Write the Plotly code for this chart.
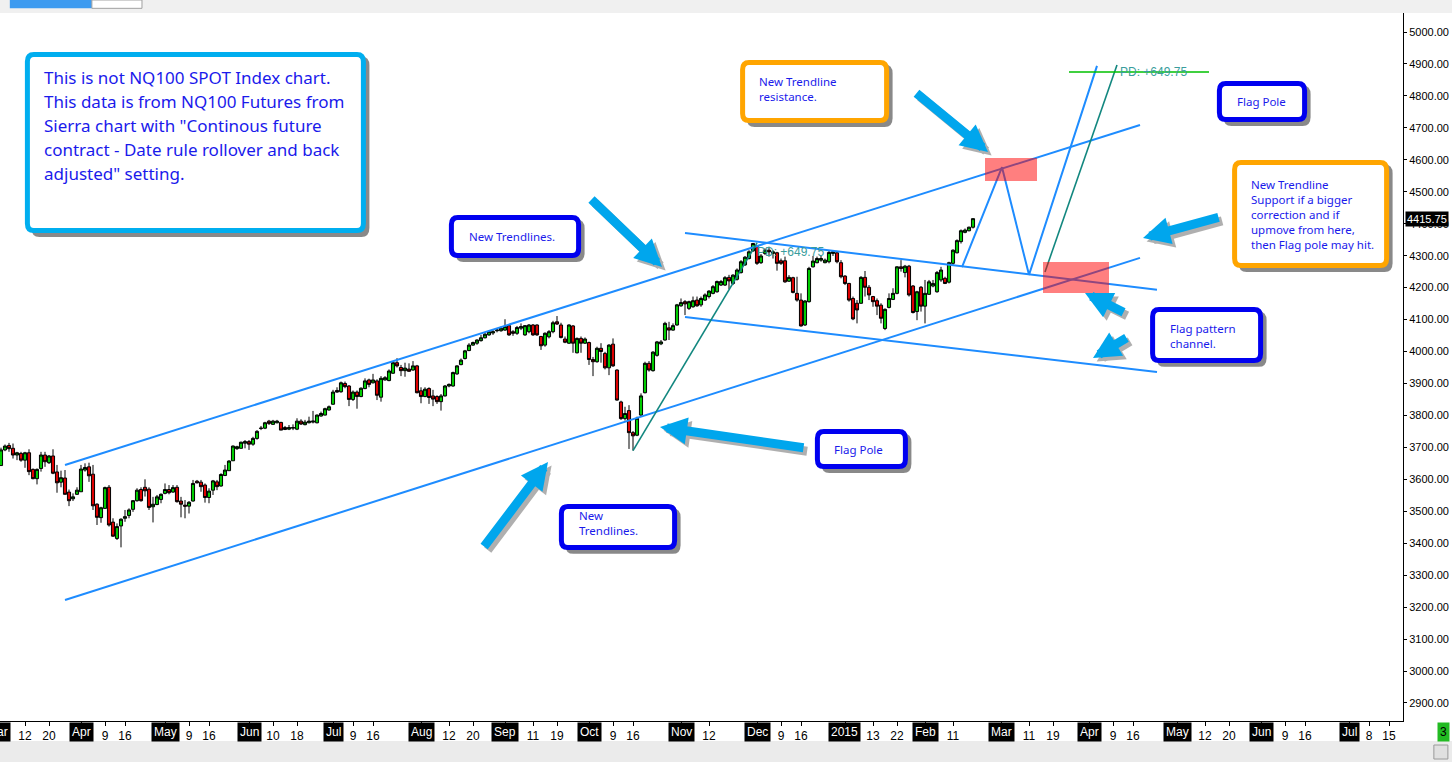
import pandas as pd
import plotly.graph_objects as go

# NQ100 continuous futures, daily bars (back adjusted), first bar 2014-03-04
first_bar = "2014-03-04"

opens = [
    3643, 3692, 3706, 3697, 3676, 3681, 3660, 3683, 3631, 3602,
    3634, 3676, 3652, 3673, 3623, 3591, 3604, 3560, 3539, 3553,
    3561, 3629, 3639, 3616, 3522, 3480, 3509, 3575, 3466, 3415,
    3454, 3478, 3487, 3506, 3533, 3568, 3575, 3569, 3514, 3521,
    3537, 3556, 3568, 3560, 3575, 3532, 3519, 3516, 3532, 3594,
    3591, 3582, 3543, 3566, 3592, 3579, 3612, 3627, 3658, 3696,
    3697, 3713, 3718, 3710, 3728, 3759, 3760, 3782, 3772, 3777,
    3778, 3762, 3757, 3760, 3757, 3782, 3771, 3777, 3779, 3777,
    3798, 3801, 3817, 3835, 3878, 3874, 3900, 3892, 3850, 3873,
    3859, 3884, 3911, 3902, 3908, 3857, 3911, 3909, 3932, 3965,
    3950, 3940, 3945, 3942, 3955, 3877, 3859, 3884, 3861, 3859,
    3843, 3861, 3892, 3892, 3930, 3959, 3978, 4003, 4020, 4026,
    4034, 4043, 4052, 4058, 4065, 4065, 4067, 4081, 4062, 4057,
    4073, 4052, 4062, 4083, 4083, 4047, 4020, 4046, 4062, 4093,
    4083, 4039, 4026, 4080, 3996, 4041, 4026, 4028, 3975, 3968,
    4010, 3994, 3949, 4023, 3942, 3842, 3790, 3815, 3746, 3738,
    3801, 3871, 3963, 3940, 3988, 4024, 4036, 4074, 4067, 4083,
    4143, 4156, 4135, 4140, 4161, 4146, 4161, 4172, 4182, 4187,
    4208, 4208, 4232,
    4213, 4226, 4247, 4271, 4291, 4315, 4328,
    4278, 4307, 4317, 4307, 4309, 4284, 4284, 4220, 4231, 4182,
    4161, 4083, 4156, 4265, 4278, 4286, 4278, 4281, 4307, 4309,
    4278, 4236, 4213, 4166, 4151, 4151, 4232, 4201, 4172, 4159,
    4145, 4072, 4138, 4163, 4182, 4265, 4247, 4267, 4205, 4125,
    4201, 4142, 4179, 4205, 4187, 4224, 4229, 4217, 4276, 4309,
    4344, 4373, 4378, 4389,
]
highs = [
    3699, 3709, 3714, 3712, 3686, 3686, 3686, 3694, 3634, 3634,
    3686, 3686, 3676, 3694, 3645, 3627, 3629, 3568, 3556, 3575,
    3645, 3650, 3652, 3645, 3525, 3514, 3577, 3582, 3478, 3462,
    3478, 3504, 3509, 3535, 3572, 3575, 3600, 3575, 3545, 3551,
    3556, 3587, 3582, 3582, 3582, 3545, 3535, 3532, 3598, 3598,
    3598, 3587, 3572, 3598, 3598, 3619, 3645, 3660, 3706, 3705,
    3718, 3723, 3723, 3733, 3754, 3767, 3780, 3786, 3786, 3786,
    3780, 3767, 3770, 3772, 3791, 3788, 3786, 3796, 3814, 3803,
    3812, 3824, 3831, 3880, 3888, 3906, 3906, 3895, 3878, 3878,
    3888, 3916, 3915, 3930, 3913, 3923, 3923, 3944, 3970, 3979,
    3958, 3965, 3963, 3970, 3958, 3888, 3888, 3888, 3880, 3863,
    3867, 3895, 3900, 3937, 3957, 3978, 4005, 4026, 4031, 4038,
    4052, 4060, 4067, 4067, 4072, 4078, 4101, 4085, 4067, 4080,
    4088, 4083, 4086, 4086, 4085, 4049, 4060, 4067, 4096, 4111,
    4090, 4047, 4085, 4083, 4044, 4047, 4044, 4031, 3983, 4015,
    4026, 3999, 4023, 4041, 3944, 3846, 3827, 3832, 3751, 3796,
    3869, 3968, 3970, 4001, 4033, 4036, 4093, 4093, 4088, 4149,
    4166, 4161, 4159, 4172, 4172, 4172, 4182, 4192, 4208, 4222,
    4224, 4236, 4240,
    4242, 4260, 4286, 4299, 4317, 4339.75, 4333,
    4305, 4323, 4328, 4317, 4312, 4291, 4297, 4239, 4234, 4234,
    4182, 4161, 4265, 4299, 4297, 4299, 4291, 4317, 4317, 4312,
    4286, 4239, 4215, 4172, 4161, 4236, 4252, 4208, 4174, 4166,
    4151, 4135, 4182, 4198, 4267, 4286, 4271, 4271, 4208, 4190,
    4205, 4224, 4224, 4224, 4252, 4265, 4234, 4281, 4320, 4351,
    4382, 4385, 4391, 4417,
]
lows = [
    3643, 3688, 3686, 3665, 3660, 3655, 3636, 3613, 3600, 3584,
    3624, 3639, 3648, 3616, 3558, 3575, 3553, 3516, 3532, 3551,
    3561, 3624, 3592, 3504, 3457, 3464, 3509, 3452, 3420, 3410,
    3387, 3467, 3478, 3498, 3530, 3530, 3546, 3504, 3465, 3519,
    3525, 3553, 3553, 3558, 3527, 3481, 3478, 3493, 3530, 3587,
    3561, 3527, 3525, 3551, 3566, 3577, 3610, 3627, 3658, 3692,
    3696, 3697, 3692, 3705, 3724, 3754, 3757, 3770, 3770, 3775,
    3754, 3754, 3754, 3754, 3754, 3770, 3769, 3775, 3775, 3775,
    3796, 3800, 3815, 3833, 3871, 3871, 3885, 3829, 3845, 3821,
    3857, 3882, 3888, 3900, 3848, 3843, 3909, 3907, 3930, 3950,
    3923, 3921, 3937, 3940, 3869, 3838, 3857, 3836, 3829, 3836,
    3815, 3859, 3888, 3890, 3927, 3957, 3975, 4001, 4018, 4021,
    4031, 4041, 4049, 4052, 4060, 4062, 4065, 4049, 4049, 4052,
    4067, 4049, 4057, 4049, 4049, 4005, 4015, 4041, 4057, 4083,
    4041, 4026, 4024, 3996, 3994, 3996, 4024, 3958, 3923, 3965,
    3965, 3944, 3926, 3952, 3846, 3786, 3784, 3695, 3690, 3735,
    3798, 3869, 3937, 3937, 3984, 4020, 4034, 4036, 4065, 4081,
    4140, 4114, 4130, 4137, 4140, 4140, 4158, 4166, 4179, 4184,
    4205, 4205, 4195,
    4208, 4222, 4244, 4268, 4288, 4312, 4271,
    4274, 4302, 4297, 4291, 4253, 4271, 4215, 4218, 4182, 4156,
    4078, 4080, 4153, 4263, 4276, 4281, 4276, 4276, 4299, 4276,
    4229, 4208, 4156, 4098, 4088, 4149, 4172, 4161, 4140, 4114,
    4088, 4067, 4135, 4161, 4179, 4250, 4232, 4172, 4119, 4098,
    4125, 4088, 4177, 4201, 4184, 4218, 4211, 4213, 4271, 4307,
    4338, 4370, 4376, 4385,
]
closes = [
    3692, 3704, 3696, 3676, 3683, 3660, 3683, 3624, 3602, 3631,
    3676, 3655, 3673, 3619, 3589, 3605, 3553, 3533, 3545, 3566,
    3632, 3637, 3611, 3517, 3481, 3511, 3574, 3457, 3422, 3452,
    3475, 3483, 3504, 3533, 3566, 3533, 3564, 3512, 3522, 3545,
    3553, 3568, 3558, 3574, 3530, 3522, 3516, 3528, 3587, 3589,
    3577, 3543, 3563, 3595, 3577, 3615, 3629, 3657, 3704, 3702,
    3716, 3718, 3710, 3728, 3750, 3760, 3777, 3775, 3782, 3782,
    3754, 3756, 3762, 3762, 3782, 3773, 3779, 3782, 3782, 3801,
    3806, 3821, 3827, 3873, 3873, 3902, 3890, 3850, 3873, 3859,
    3885, 3908, 3897, 3911, 3863, 3916, 3918, 3939, 3965, 3955,
    3940, 3948, 3938, 3955, 3871, 3859, 3882, 3856, 3851, 3843,
    3861, 3892, 3897, 3934, 3955, 3973, 4002, 4020, 4028, 4036,
    4043, 4054, 4062, 4062, 4067, 4073, 4078, 4052, 4057, 4075,
    4078, 4081, 4083, 4052, 4052, 4018, 4057, 4062, 4090, 4086,
    4044, 4029, 4083, 4026, 4041, 4026, 4039, 3975, 3968, 4010,
    4000, 3949, 4020, 3955, 3848, 3790, 3806, 3746, 3736, 3791,
    3861, 3963, 3942, 3998, 4030, 4030, 4088, 4067, 4081, 4146,
    4153, 4149, 4156, 4159, 4143, 4166, 4177, 4189, 4203, 4219,
    4219, 4231, 4221,
    4239, 4255, 4281, 4295, 4312, 4338, 4276,
    4299, 4317, 4312, 4312, 4276, 4276, 4218, 4232, 4185, 4161,
    4080, 4158, 4260, 4283, 4291, 4291, 4286, 4310, 4312, 4281,
    4234, 4213, 4161, 4102, 4130, 4232, 4201, 4177, 4156, 4142,
    4104, 4132, 4166, 4182, 4265, 4260, 4267, 4177, 4122, 4187,
    4142, 4182, 4218, 4213, 4247, 4255, 4213, 4278, 4317, 4347,
    4378, 4380, 4389, 4415.75,
]

# exchange holidays inside the bar range (later dates are plain weekdays)
holidays = ["2014-04-18", "2014-05-26", "2014-07-04", "2014-09-01", "2014-11-27",
            "2014-12-25", "2015-01-01", "2015-01-19", "2015-02-16"]

tick_dates = ["2014-03-03", "2014-03-12", "2014-03-20", "2014-04-01", "2014-04-09", "2014-04-16",
              "2014-05-01", "2014-05-09", "2014-05-16", "2014-06-02", "2014-06-10", "2014-06-18",
              "2014-07-01", "2014-07-09", "2014-07-16", "2014-08-01", "2014-08-12", "2014-08-20",
              "2014-09-02", "2014-09-11", "2014-09-19", "2014-10-01", "2014-10-09", "2014-10-16",
              "2014-11-03", "2014-11-12", "2014-12-01", "2014-12-09", "2014-12-16", "2015-01-02",
              "2015-01-13", "2015-01-22", "2015-02-02", "2015-02-11", "2015-03-02", "2015-03-11",
              "2015-03-19", "2015-04-01", "2015-04-09", "2015-04-16", "2015-05-01", "2015-05-12",
              "2015-05-20", "2015-06-01", "2015-06-09", "2015-06-16", "2015-07-01", "2015-07-08",
              "2015-07-15"]
tick_labels = ["Mar", "12", "20", "Apr", "9", "16", "May", "9", "16", "Jun", "10", "18",
               "Jul", "9", "16", "Aug", "12", "20", "Sep", "11", "19", "Oct", "9", "16",
               "Nov", "12", "Dec", "9", "16", "2015", "13", "22", "Feb", "11", "Mar", "11",
               "19", "Apr", "9", "16", "May", "12", "20", "Jun", "9", "16", "Jul", "8", "15"]

# drawings (bar number, price)
upper_trend_x = [17, 285.75]
upper_trend_y = [3645, 4709]
lower_trend_x = [17, 285.75]
lower_trend_y = [3222, 4293]
flag_top_x = [172, 290]
flag_top_y = [4371, 4193]
flag_bottom_x = [172, 290]
flag_bottom_y = [4108, 3936]
pole_x = [159, 190]
pole_y = [3690, 4339.75]
path_x = [241.25, 251.25, 258, 275]
path_y = [4264, 4577, 4240, 4894]
pole2_x = [262, 280]
pole2_y = [4249, 4897]
target_x = [268, 303]
target_y = [4875, 4875]

# bar calendar
days = pd.bdate_range("2014-03-03", "2015-07-31")
days = days[~days.isin(pd.to_datetime(holidays))]
pos = {d.strftime("%Y-%m-%d"): i for i, d in enumerate(days)}
bar_x = [pos[first_bar] + i for i in range(len(closes))]

x_range = [0.75, 351.5]

BLUE = "#1E8CFF"
TEAL = "#12877F"
TXT = "#1a1aeb"
ARROW = "#00A6ED"

fig = go.Figure()

fig.add_trace(go.Candlestick(
    x=bar_x, open=opens, high=highs, low=lows, close=closes,
    increasing=dict(line=dict(color="black", width=1), fillcolor="#00CC00"),
    decreasing=dict(line=dict(color="black", width=1), fillcolor="#DD0000"),
    hoverinfo="skip",
))

for xs, ys, col, w in [
    (upper_trend_x, upper_trend_y, BLUE, 2),
    (lower_trend_x, lower_trend_y, BLUE, 2),
    (flag_top_x, flag_top_y, BLUE, 2),
    (flag_bottom_x, flag_bottom_y, BLUE, 2),
    (path_x, path_y, BLUE, 2),
    (pole_x, pole_y, TEAL, 1.6),
    (pole2_x, pole2_y, TEAL, 1.6),
    (target_x, target_y, "#00C000", 1.5),
]:
    fig.add_scatter(x=xs, y=ys, mode="lines", line=dict(color=col, width=w),
                    hoverinfo="skip", showlegend=False)


def rounded(x0, x1, y0, y1, rx=1.6, ry=22):
    return (f"M {x0 + rx},{y0} L {x1 - rx},{y0} Q {x1},{y0} {x1},{y0 + ry} "
            f"L {x1},{y1 - ry} Q {x1},{y1} {x1 - rx},{y1} L {x0 + rx},{y1} "
            f"Q {x0},{y1} {x0},{y1 - ry} L {x0},{y0 + ry} Q {x0},{y0} {x0 + rx},{y0} Z")


# note boxes: x0, x1 (bars), y0, y1 (price), border colour
boxes = [
    (7.6, 91.6, 4378.7, 4929.6, "#00AEEF"),
    (186.4, 222.4, 4723.0, 4904.6, "#FFA500"),
    (305.6, 326.9, 4726.2, 4838.8, "#0000F0"),
    (113.6, 145.4, 4300.5, 4419.4, "#0000F0"),
    (309.4, 347.4, 4269.2, 4591.6, "#FFA500"),
    (288.9, 315.9, 3972.0, 4131.5, "#0000F0"),
    (205.1, 227.1, 3640.1, 3749.6, "#0000F0"),
    (141.1, 169.4, 3386.6, 3514.9, "#0000F0"),
]
for x0, x1, y0, y1, col in boxes:
    fig.add_shape(type="path", path=rounded(x0 + 1.0, x1 + 1.5, y0 - 20, y1 - 6, 2, 28),
                  fillcolor="rgba(40,40,40,0.55)", line=dict(width=0), layer="above")
    fig.add_shape(type="path", path=rounded(x0, x1, y0, y1),
                  fillcolor="white", line=dict(color=col, width=5), layer="above")

# red zones
for x0, x1, y0, y1 in [(247, 260, 4534, 4606), (261.5, 278, 4183, 4280)]:
    fig.add_shape(type="rect", x0=x0, x1=x1, y0=y0, y1=y1,
                  fillcolor="rgba(255,0,0,0.5)", line=dict(width=0), layer="above")

# box texts
note1 = ["This is not NQ100 SPOT Index chart.",
         "This data is from NQ100 Futures from",
         "Sierra chart with \"Continous future",
         "contract - Date rule rollover and back",
         "adjusted\" setting."]
for i, line in enumerate(note1):
    fig.add_annotation(x=11.25, y=4859 - i * 75.1, text=line, showarrow=False,
                       xanchor="left", yanchor="middle",
                       font=dict(family="Noto Sans", size=17, color=TXT))

notes = [
    (190, 4821.6, "New Trendline<br>resistance."),
    (309.5, 4781, "Flag Pole"),
    (117.5, 4361.5, "New Trendlines."),
    (313, 4428.8, "New Trendline<br>Support if a bigger<br>correction and if<br>upmove from here,<br>then Flag pole may hit."),
    (292.75, 4048.5, "Flag pattern<br>channel."),
    (208.75, 3694.8, "Flag Pole"),
    (145, 3463.2, "New<br>Trendlines."),
]
for x, y, t in notes:
    fig.add_annotation(x=x, y=y, text=t, showarrow=False, xanchor="left", yanchor="middle",
                       align="left", font=dict(family="Noto Sans", size=11.5, color=TXT))

for x, y in [(189.5, 4311), (280.25, 4875)]:
    fig.add_annotation(x=x, y=y, text="PD: +649.75", showarrow=False, xanchor="left",
                       yanchor="middle", font=dict(family="Liberation Sans", size=12, color="#3A9D9D"))

# arrows: tail x, tail y, head x, head y
arrows = [
    (148.25, 4480.5, 166.25, 4264.5),
    (229.5, 4812.2, 247.75, 4624.4),
    (305.75, 4421.0, 286.5, 4355.3),
    (282, 4120.5, 272, 4183.1),
    (282.75, 4045.4, 274, 3979.7),
    (202, 3697.9, 165.75, 3763.7),
    (121.5, 3385.0, 137.75, 3654.1),
]
for tx, ty, hx, hy in arrows:
    for dx, dy, col in [(0.9, -11, "rgba(30,30,30,0.35)"), (0, 0, ARROW)]:
        fig.add_annotation(x=hx + dx, y=hy + dy, ax=tx + dx, ay=ty + dy, axref="x", ayref="y",
                           text="", showarrow=True, arrowhead=2, arrowsize=0.6,
                           arrowwidth=9, arrowcolor=col, standoff=0)

# month labels on black (paper x so the cut-off first one still shows)
for d, lab in zip(tick_dates, tick_labels):
    if not (lab.isdigit() and len(lab) <= 2):
        px = (pos[d] - x_range[0]) / (x_range[1] - x_range[0])
        fig.add_annotation(x=px, xref="paper", xanchor="center", y=0, yref="paper",
                           yanchor="top", yshift=-1, text=lab, showarrow=False,
                           bgcolor="black", borderpad=2,
                           font=dict(family="Liberation Sans", size=12, color="white"))

# last price tag
fig.add_annotation(x=1, xref="paper", xanchor="left", xshift=2, y=closes[-1],
                   text=f"{closes[-1]:.2f}", showarrow=False, bgcolor="black", borderpad=1,
                   font=dict(family="Liberation Sans", size=11, color="white"))
fig.add_annotation(x=1.0242, xref="paper", xanchor="left", y=0, yref="paper", yanchor="top",
                   yshift=-1, text="3", showarrow=False, bgcolor="#22BB22", borderpad=2,
                   font=dict(family="Liberation Sans", size=12, color="black"))

# window chrome: tab strip on top, scroll bar at the bottom
fig.add_shape(type="rect", xref="paper", yref="paper", x0=0, x1=1.035, y0=1, y1=1.0184,
              fillcolor="#F0F0F0", line=dict(width=0))
fig.add_shape(type="rect", xref="paper", yref="paper", x0=0.007, x1=0.0655, y0=1.0066, y1=1.0184,
              fillcolor="#3D9BF0", line=dict(width=0))
fig.add_shape(type="rect", xref="paper", yref="paper", x0=0.0655, x1=0.1012, y0=1.0066, y1=1.0184,
              fillcolor="white", line=dict(color="#A0A0A0", width=1))
fig.add_shape(type="rect", xref="paper", yref="paper", x0=0, x1=1.035, y0=-0.0579, y1=-0.0282,
              fillcolor="#EBEBEB", line=dict(width=0))
fig.add_shape(type="rect", xref="paper", yref="paper", x0=1.022, x1=1.032, y0=-0.0537, y1=-0.0339,
              fillcolor="#E0E0E0", line=dict(color="#9A9A9A", width=1))

fig.update_layout(
    width=1452, height=762,
    margin=dict(l=0, r=49, t=13, b=41, autoexpand=False),
    plot_bgcolor="white", paper_bgcolor="white", showlegend=False,
    boxgap=0.22, boxgroupgap=0,
    xaxis=dict(range=x_range, tickvals=[pos[d] for d in tick_dates],
               ticktext=[lab if (lab.isdigit() and len(lab) <= 2) else "" for lab in tick_labels],
               ticks="outside", ticklen=4, tickcolor="black", showline=True, linecolor="black",
               showgrid=False, zeroline=False, rangeslider=dict(visible=False),
               tickfont=dict(family="Liberation Sans", size=12, color="black")),
    yaxis=dict(side="right", range=[2843.5, 5059.5], tickvals=list(range(2900, 5001, 100)),
               tickformat=".2f", ticks="outside", ticklen=3, tickcolor="black",
               showline=True, linecolor="black", showgrid=False, zeroline=False,
               tickfont=dict(family="Liberation Sans", size=11, color="black")),
)

# page has a default body margin; remove it so the figure fills the window
fig.write_html("out.html", config={"displayModeBar": False},
               post_script="document.body.style.margin='0';document.body.style.overflow='hidden';")
